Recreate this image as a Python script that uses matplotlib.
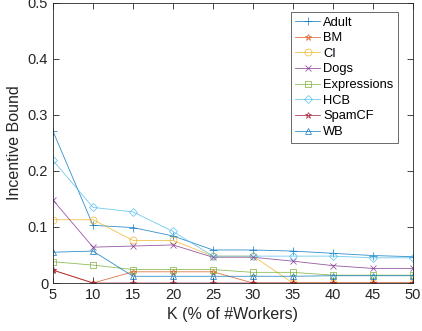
import matplotlib
matplotlib.use('Agg')
import matplotlib.pyplot as plt

plt.rcParams['font.family'] = ['Liberation Sans', 'DejaVu Sans']

# K values (% of workers)
k = [5, 10, 15, 20, 25, 30, 35, 40, 45, 50]

# incentive bound per dataset
adult = [0.271, 0.103, 0.099, 0.084, 0.059, 0.059, 0.057, 0.053, 0.049, 0.047]
bm = [0.023, 0.0, 0.020, 0.020, 0.020, 0.0, 0.0, 0.0, 0.0, 0.0]
ci = [0.113, 0.113, 0.076, 0.076, 0.048, 0.048, 0.0, 0.0, 0.0, 0.0]
dogs = [0.148, 0.064, 0.066, 0.068, 0.046, 0.046, 0.039, 0.031, 0.026, 0.026]
expressions = [0.038, 0.032, 0.024, 0.024, 0.024, 0.019, 0.019, 0.014, 0.014, 0.014]
hcb = [0.219, 0.135, 0.127, 0.092, 0.048, 0.048, 0.048, 0.048, 0.045, 0.045]
spamcf = [0.023, 0.0, 0.0, 0.0, 0.0, 0.0, 0.0, 0.0, 0.0, 0.0]
wb = [0.055, 0.057, 0.012, 0.012, 0.012, 0.012, 0.012, 0.013, 0.013, 0.013]

names = ['Adult', 'BM', 'CI', 'Dogs', 'Expressions', 'HCB', 'SpamCF', 'WB']
series = [adult, bm, ci, dogs, expressions, hcb, spamcf, wb]
markers = ['+', '*', 'o', 'x', 's', 'D', '*', '^']
sizes = [6, 5, 5, 5, 4.5, 4.5, 5, 5]
colors = ['#0072BD', '#D95319', '#EDB120', '#7E2F8E', '#77AC30', '#4DBEEE', '#A2142F', '#0072BD']

fig = plt.figure(figsize=(4.22, 3.31), dpi=100)
ax = fig.add_axes([0.1256, 0.145, 0.853, 0.846])

for y, n, m, ms, c in zip(series, names, markers, sizes, colors):
    ax.plot(k, y, color=c, marker=m, markersize=ms, markerfacecolor='none',
            markeredgewidth=0.6, linewidth=0.6, label=n, alpha=0.8)

ax.set_xlim(5, 50)
ax.set_ylim(0, 0.5)
ax.set_xticks(k)
ax.set_yticks([0, 0.1, 0.2, 0.3, 0.4, 0.5])
ax.set_yticklabels(['0', '0.1', '0.2', '0.3', '0.4', '0.5'])
ax.tick_params(direction='in', top=True, right=True, labelsize=10.5,
               colors='#262626', length=4, width=0.6)
for s in ax.spines.values():
    s.set_color('#262626')
    s.set_linewidth(0.6)
ax.set_xlabel('K (% of #Workers)', fontsize=11.5, color='#262626')
ax.set_ylabel('Incentive Bound', fontsize=11.5, color='#262626')

leg = ax.legend(loc='upper right', bbox_to_anchor=(0.958, 0.968), fontsize=9.3,
                fancybox=False, edgecolor='#262626', handlelength=1.9,
                handletextpad=0.25, borderpad=0.35, labelspacing=0.28,
                borderaxespad=0)
leg.get_frame().set_linewidth(0.6)

fig.savefig('out.png', dpi=100)
